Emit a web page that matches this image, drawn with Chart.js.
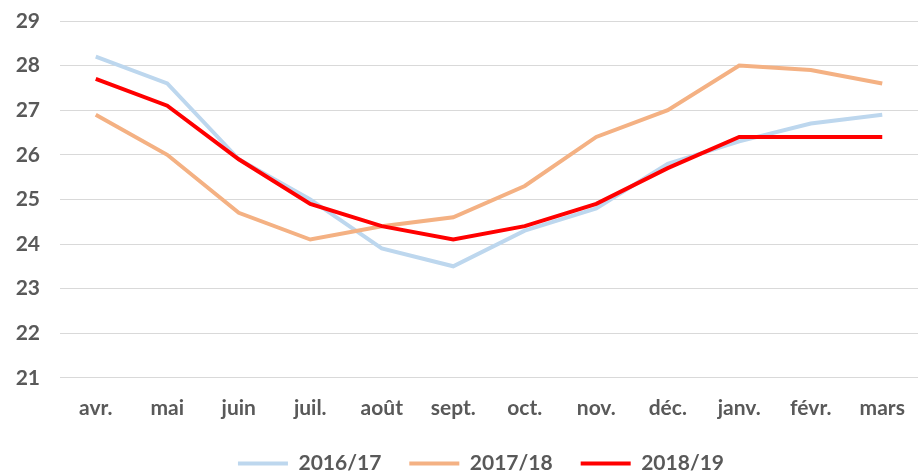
<!DOCTYPE html>
<html>
<head>
<meta charset="utf-8">
<script src="https://cdn.jsdelivr.net/npm/chart.js@4/dist/chart.umd.min.js"></script>
<style>
html,body{margin:0;padding:0;background:#fff;}
#wrap{width:918px;height:471px;}
</style>
</head>
<body>
<div id="wrap"><canvas id="c" width="918" height="471"></canvas></div>
<script>
const categories = ['avr.','mai','juin','juil.','août','sept.','oct.','nov.','déc.','janv.','févr.','mars'];
const series2016 = [28.2, 27.6, 25.9, 25.0, 23.9, 23.5, 24.3, 24.8, 25.8, 26.3, 26.7, 26.9];
const series2017 = [26.9, 26.0, 24.7, 24.1, 24.4, 24.6, 25.3, 26.4, 27.0, 28.0, 27.9, 27.6];
const series2018 = [27.7, 27.1, 25.9, 24.9, 24.4, 24.1, 24.4, 24.9, 25.7, 26.4, 26.4, 26.4];
const seriesNames = ['2016/17','2017/18','2018/19'];
const yMin = 21, yMax = 29, yStep = 1;

const font = {family: 'Lato, "Liberation Sans", sans-serif', size: 21, weight: 'bold'};
const textColor = '#595959';

const legendTweak = {
  id: 'legendTweak',
  beforeLayout(chart) {
    const lg = chart.legend;
    if (lg && !lg._wrappedFit) {
      const orig = lg.fit.bind(lg);
      lg.fit = function() { orig(); this.height -= 25; };
      lg._wrappedFit = true;
    }
  },
  afterLayout(chart) {
    const lg = chart.legend;
    if (lg) { lg.left += 17; lg.right += 17; lg.top -= 14; lg.bottom = chart.height; }
  }
};

new Chart(document.getElementById('c'), {
  type: 'line',
  data: {
    labels: categories,
    datasets: [
      {label: seriesNames[0], data: series2016, order: 2, borderColor: '#BDD7EE', backgroundColor: '#BDD7EE', borderWidth: 4, pointRadius: 0, tension: 0},
      {label: seriesNames[1], data: series2017, order: 1, borderColor: '#F4B183', backgroundColor: '#F4B183', borderWidth: 4, pointRadius: 0, tension: 0},
      {label: seriesNames[2], data: series2018, order: 0, borderColor: '#FF0000', backgroundColor: '#FF0000', borderWidth: 4, pointRadius: 0, tension: 0}
    ]
  },
  options: {
    responsive: false,
    animation: false,
    devicePixelRatio: 1,
    layout: {padding: {top: 21, right: -10, bottom: -2, left: 0}},
    plugins: {
      tooltip: {enabled: false},
      legend: {
        position: 'bottom',
        labels: {
          font: font,
          color: textColor,
          boxWidth: 50,
          boxHeight: 4,
          padding: 28,
          generateLabels(chart) {
            return chart.data.datasets.map((ds, i) => ({
              text: ds.label,
              fillStyle: ds.borderColor,
              strokeStyle: ds.borderColor,
              lineWidth: 0,
              fontColor: textColor,
              datasetIndex: i,
              hidden: false
            }));
          }
        }
      }
    },
    scales: {
      x: {
        offset: true,
        afterFit(scale) { scale.paddingRight = 0; scale.paddingLeft = 0; },
        grid: {display: false, drawTicks: false},
        border: {display: false},
        ticks: {font: font, color: textColor, padding: 18, maxRotation: 0, autoSkip: false}
      },
      y: {
        min: yMin, max: yMax,
        afterFit(scale) { scale.width = 60; scale.paddingTop = 0; },
        grid: {color: '#D9D9D9', lineWidth: 1, drawTicks: false},
        border: {display: false},
        ticks: {stepSize: yStep, font: font, color: textColor, padding: 20}
      }
    }
  },
  plugins: [legendTweak]
});
</script>
</body>
</html>
